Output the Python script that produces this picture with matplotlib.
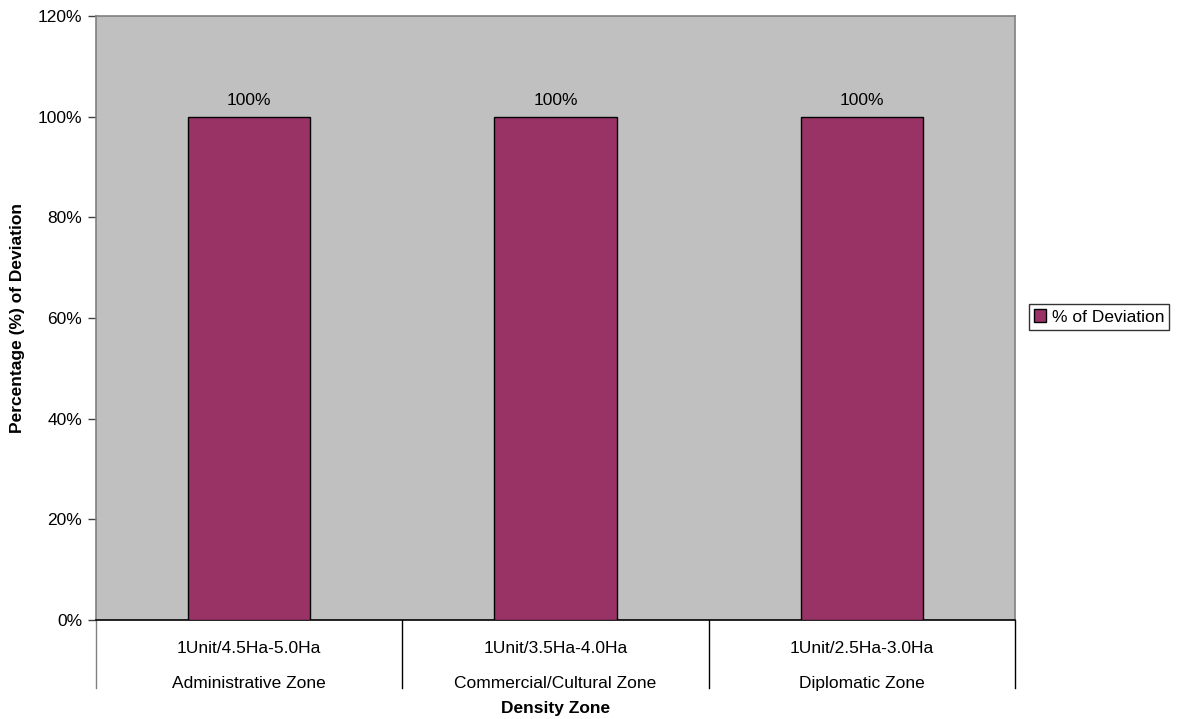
import matplotlib
matplotlib.use("Agg")
import matplotlib.pyplot as plt
from matplotlib.lines import Line2D
from matplotlib.ticker import FuncFormatter

plt.rcParams['font.family'] = ['Liberation Sans', 'DejaVu Sans']

densities = ["1Unit/4.5Ha-5.0Ha", "1Unit/3.5Ha-4.0Ha", "1Unit/2.5Ha-3.0Ha"]
zones = ["Administrative Zone", "Commercial/Cultural Zone", "Diplomatic Zone"]
deviation = [100, 100, 100]
y_ticks = [0, 20, 40, 60, 80, 100, 120]

bar_color = "#993366"
fs = 12.5

fig = plt.figure(figsize=(11.79, 7.19), dpi=100)
ax = fig.add_axes([96 / 1179, 1 - 620 / 719, (1015 - 96) / 1179, (620 - 16) / 719])
ax.set_facecolor("#C0C0C0")

x = list(range(len(deviation)))
ax.bar(x, deviation, width=0.4, color=bar_color, edgecolor="black",
       linewidth=1.0, label="% of Deviation", zorder=3)

for xi, v in zip(x, deviation):
    ax.annotate(f"{v}%", (xi, v), xytext=(0, 6), textcoords="offset points",
                ha="center", va="bottom", fontsize=fs)

ax.set_xlim(-0.5, len(deviation) - 0.5)
ax.set_ylim(0, 120)
ax.set_yticks(y_ticks)
ax.yaxis.set_major_formatter(FuncFormatter(lambda v, p: f"{v:.0f}%"))
ax.tick_params(axis="y", labelsize=fs, length=6, width=1, color="#404040", pad=4)
ax.set_xticks([])

for side in ("top", "right", "left"):
    ax.spines[side].set_color("#808080")
    ax.spines[side].set_linewidth(1.2)
ax.spines["bottom"].set_color("black")
ax.spines["bottom"].set_linewidth(1.2)

# Category dividers and two-level labels beneath the axis
sep_depth = (688 - 620) / (620 - 16)
for b in range(len(deviation) + 1):
    xb = b / len(deviation)
    ax.add_line(Line2D([xb, xb], [0, -sep_depth], transform=ax.transAxes,
                       color="#808080" if b == 0 else "black", linewidth=1.0,
                       clip_on=False))
trans = ax.get_xaxis_transform()
row1 = -(653 - 620) / (620 - 16)
row2 = -(688 - 620) / (620 - 16)
for xi, d, z in zip(x, densities, zones):
    ax.text(xi, row1, d, transform=trans, ha="center", va="baseline", fontsize=fs)
    ax.text(xi, row2, z, transform=trans, ha="center", va="baseline", fontsize=fs)

fig.text(96 / 1179 + (1015 - 96) / 2 / 1179, 1 - 709 / 719, "Density Zone",
         ha="center", va="center", fontsize=fs, fontweight="bold")
fig.text(18 / 1179, 1 - 318 / 719, "Percentage (%) of Deviation", rotation=90,
         ha="center", va="center", fontsize=fs, fontweight="bold")

leg = ax.legend(loc="center left", bbox_to_anchor=(1029 / 1179, 1 - 317 / 719),
                bbox_transform=fig.transFigure, frameon=True, fancybox=False,
                fontsize=fs, handlelength=0.7, handleheight=0.7,
                handletextpad=0.3, borderpad=0.3, borderaxespad=0)
leg.get_frame().set_edgecolor("black")
leg.get_frame().set_linewidth(1.0)

fig.savefig("out.png", dpi=100, facecolor="white")
